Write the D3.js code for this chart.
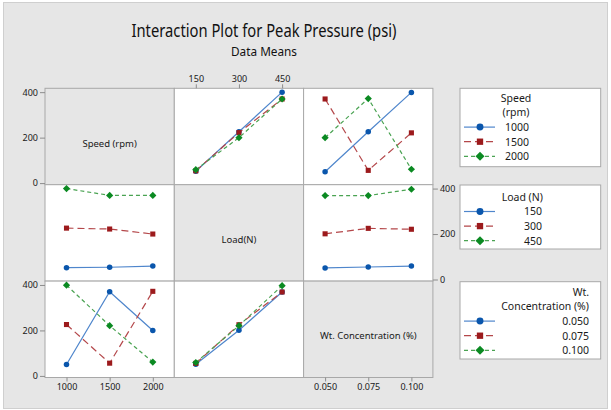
<!DOCTYPE html>
<html>
<head>
<meta charset="utf-8">
<script src="https://cdn.jsdelivr.net/npm/d3@7"></script>
<style>
body { margin: 0; background: #fff; }
text { font-family: "Noto Sans", "Open Sans", sans-serif; fill: #1a1a1a; }
</style>
</head>
<body>
<svg id="chart" width="611" height="410"></svg>
<script>
// factors and their levels
var factorNames = ["Speed (rpm)", "Load(N)", "Wt. Concentration (%)"];
var speedLevels = ["1000", "1500", "2000"];
var loadLevels = ["150", "300", "450"];
var wtLevels = ["0.050", "0.075", "0.100"];
var yTicks = [0, 200, 400];

// data means, rows = levels of the first factor, cols = levels of the second
var speedByLoad = [[52, 226, 400], [54, 222, 370], [59, 200, 370]];
var speedByWt = [[50, 226, 399], [370, 56, 221], [200, 372, 61]];
var loadByWt = [[51, 55, 59], [201, 225, 221], [369, 369, 397]];

var levels = [speedLevels, loadLevels, wtLevels];
var tables = {"0-1": speedByLoad, "0-2": speedByWt, "1-2": loadByWt};

var getMeans = function(i, j){
    if (i < j) return tables[i + "-" + j];
    var t = tables[j + "-" + i];
    return t[0].map(function(d, c){ return t.map(function(row){ return row[c]; }); });
};

var markColor = ["#0a56ac", "#9c1a1c", "#0b8a22"];
var lineColor = ["#4f86cc", "#b4474a", "#4aa352"];
var dashes = [null, "7,4", "4,3"];
var symbols = [d3.symbolCircle, d3.symbolSquare, d3.symbolSquare];
var symRot = [0, 0, 45];
var symSize = [24, 26, 26];

var svg = d3.select("#chart");
svg.append("rect").attr("x", 0).attr("y", 0).attr("width", 611).attr("height", 410).attr("fill", "#fff");
svg.append("rect").attr("x", 3.5).attr("y", 2.5).attr("width", 604).attr("height", 406)
    .attr("fill", "#e6e6e6").attr("stroke", "#cfcfcf");

svg.append("text").attr("x", 264).attr("y", 37).attr("text-anchor", "middle")
    .style("font-size", "18px").style("fill", "#111").attr("textLength", 265).attr("lengthAdjust", "spacingAndGlyphs")
    .text("Interaction Plot for Peak Pressure (psi)");
svg.append("text").attr("x", 264).attr("y", 55.5).attr("text-anchor", "middle")
    .style("font-size", "13px").style("fill", "#111").attr("textLength", 66).attr("lengthAdjust", "spacingAndGlyphs")
    .text("Data Means");

var gx0 = 45, gy0 = 88.3, cw = 129.3, ch = 96.4, pad = 21.5;

var y = function(r){
    return d3.scaleLinear().domain([-7, 417]).range([gy0 + (r + 1) * ch, gy0 + r * ch]);
};
var x = function(c){
    return d3.scalePoint().domain(levels[c]).range([gx0 + c * cw + pad, gx0 + (c + 1) * cw - pad]);
};

for (var r = 0; r < 3; r++){
    for (var c = 0; c < 3; c++){
	svg.append("rect").attr("x", gx0 + c * cw).attr("y", gy0 + r * ch)
	    .attr("width", cw).attr("height", ch)
	    .attr("fill", r == c ? "#e6e6e6" : "#fff").attr("stroke", "#a8a8a8");
    }
}

// diagonal labels
for (var k = 0; k < 3; k++){
    svg.append("text").attr("x", gx0 + k * cw + cw / 2).attr("y", gy0 + k * ch + ch / 2 + 10)
	.attr("text-anchor", "middle").style("font-size", "9.5px")
	.text(factorNames[k]);
}

var marker = function(sel, s, size){
    sel.attr("d", d3.symbol().type(symbols[s]).size(size)).attr("fill", markColor[s]);
};

// panels
for (var r = 0; r < 3; r++){
    for (var c = 0; c < 3; c++){
	if (r == c) continue;
	var means = getMeans(r, c);
	var xs = x(c), ys = y(r);
	for (var s = 0; s < 3; s++){
	    var pts = means[s].map(function(v, i){ return [xs(levels[c][i]), ys(v)]; });
	    svg.append("path").attr("d", d3.line()(pts)).attr("fill", "none")
		.attr("stroke", lineColor[s]).attr("stroke-width", 1.2)
		.attr("stroke-dasharray", dashes[s]);
	    svg.selectAll(null).data(pts).enter().append("path")
		.attr("transform", function(d){ return "translate(" + d[0] + "," + d[1] + ") rotate(" + symRot[s] + ")"; })
		.call(marker, s, symSize[s]);
	}
    }
}

var styleAxis = function(g){
    g.select(".domain").remove();
    g.selectAll(".tick line").attr("stroke", "#8c8c8c");
    g.selectAll(".tick text").attr("fill", "#1a1a1a").style("font-size", "9px")
	.style("font-family", "\"Noto Sans\", sans-serif");
};

// y axes
[0, 2].forEach(function(r){
    svg.append("g").attr("transform", "translate(" + gx0 + ",0)")
	.call(d3.axisLeft(y(r)).tickValues(yTicks).tickSize(5).tickPadding(2)).call(styleAxis);
});
svg.append("g").attr("transform", "translate(" + (gx0 + 3 * cw) + ",0)")
    .call(d3.axisRight(y(1)).tickValues(yTicks).tickSize(5).tickPadding(2)).call(styleAxis);

// x axes
svg.append("g").attr("transform", "translate(0," + gy0 + ")")
    .call(d3.axisTop(x(1)).tickSize(4).tickPadding(2)).call(styleAxis);
[0, 2].forEach(function(c){
    svg.append("g").attr("transform", "translate(0," + (gy0 + 3 * ch) + ")")
	.call(d3.axisBottom(x(c)).tickSize(4).tickPadding(2)).call(styleAxis);
});

// legends
var legendTitles = [["Speed", "(rpm)"], ["Load (N)"], ["Wt.", "Concentration (%)"]];
var legendBox = [
    {top: 88.3, h: 78.4, headX: 516, headAnchor: "middle", valX: 529, first: 101.7},
    {top: 185, h: 64, headX: 501.7, headAnchor: "start", valX: 542, first: 200.7},
    {top: 281.7, h: 77.3, headX: 589, headAnchor: "end", valX: 589, first: 295.7}
];
var rowGap = 14.6;

legendBox.forEach(function(b, k){
    var g = svg.append("g");
    g.append("rect").attr("x", 460).attr("y", b.top).attr("width", 140.7).attr("height", b.h)
	.attr("fill", "#fff").attr("stroke", "#a8a8a8");
    legendTitles[k].forEach(function(t, i){
	g.append("text").attr("x", b.headX).attr("y", b.first + i * rowGap)
	    .attr("text-anchor", b.headAnchor).style("font-size", "10.5px").text(t);
    });
    var n = legendTitles[k].length;
    levels[k].forEach(function(lv, s){
	var by = b.first + (n + s) * rowGap;
	g.append("line").attr("x1", 464).attr("x2", 495).attr("y1", by - 3.8).attr("y2", by - 3.8)
	    .attr("stroke", lineColor[s]).attr("stroke-width", 1.2).attr("stroke-dasharray", dashes[s]);
	g.append("path").attr("transform", "translate(480," + (by - 3.8) + ") rotate(" + symRot[s] + ")")
	    .call(marker, s, symSize[s] + 14);
	g.append("text").attr("x", b.valX).attr("y", by).attr("text-anchor", "end")
	    .style("font-size", "10.5px").text(lv);
    });
});
</script>
</body>
</html>
